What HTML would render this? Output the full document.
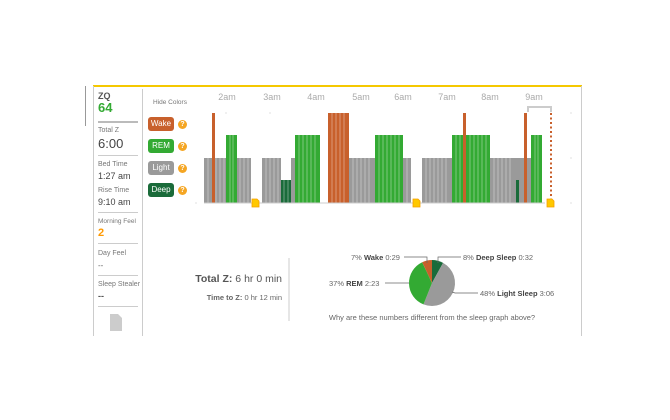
<!DOCTYPE html><html><head><style>
body{margin:0;width:670px;height:420px;background:#fff;font-family:"Liberation Sans",sans-serif;position:relative;overflow:hidden}
.a{position:absolute;white-space:nowrap}
.s{font-size:7px;color:#777}
.r{position:absolute;left:98px;width:40px;height:1px;background:#ccc}
.b{position:absolute;left:148px;width:26px;height:14px;border-radius:3px;color:#fff;font-size:8px;text-align:center;line-height:14px}
.q{position:absolute;left:178px;width:9px;height:9px;border-radius:50%;background:#f5a623;color:#fff;font-size:7px;text-align:center;line-height:9px;font-weight:bold}
</style></head><body>
<div class="a" style="left:93px;top:85px;width:489px;height:2px;background:#f5c800"></div>
<div class="a" style="left:581px;top:86px;width:1px;height:250px;background:#ccc"></div>
<div class="a" style="left:93px;top:86px;width:1px;height:250px;background:#ccc"></div>
<div class="a" style="left:142px;top:89px;width:1px;height:247px;background:#ccc"></div>
<div class="a" style="left:85px;top:86px;width:1px;height:40px;background:#999"></div>
<div class="a" style="left:98px;top:91px;font-size:9px;font-weight:bold;color:#555">ZQ</div>
<div class="a" style="left:98px;top:100px;font-size:13px;font-weight:bold;color:#3a3">64</div>
<div class="r" style="top:121px;background:#bbb;height:2px"></div>
<div class="a s" style="left:98px;top:127px">Total Z</div>
<div class="a" style="left:98px;top:136px;font-size:13px;color:#444">6:00</div>
<div class="r" style="top:155px"></div>
<div class="a s" style="left:98px;top:161px">Bed Time</div>
<div class="a" style="left:98px;top:171px;font-size:9px;color:#444">1:27 am</div>
<div class="a s" style="left:98px;top:187px">Rise Time</div>
<div class="a" style="left:98px;top:197px;font-size:9px;color:#444">9:10 am</div>
<div class="r" style="top:212px"></div>
<div class="a s" style="left:98px;top:218px;font-size:6.5px">Morning Feel</div>
<div class="a" style="left:98px;top:227px;font-size:11px;font-weight:bold;color:#f90">2</div>
<div class="r" style="top:243px"></div>
<div class="a s" style="left:98px;top:250px">Day Feel</div>
<div class="a" style="left:98px;top:261px;font-size:8px;color:#666">--</div>
<div class="r" style="top:275px"></div>
<div class="a s" style="left:98px;top:281px">Sleep Stealer</div>
<div class="a" style="left:98px;top:291px;font-size:9px;font-weight:bold;color:#555">--</div>
<div class="r" style="top:306px"></div>
<svg class="a" style="left:110px;top:314px" width="12" height="17"><path d="M0 0H8L12 4V17H0Z" fill="#ccc"/></svg>
<div class="a s" style="left:153px;top:99px;font-size:6.5px">Hide Colors</div>
<div class="b" style="top:117px;background:#c8602c">Wake</div><div class="q" style="top:120px">?</div>
<div class="b" style="top:139px;background:#3a3">REM</div><div class="q" style="top:142px">?</div>
<div class="b" style="top:161px;background:#9a9a9a">Light</div><div class="q" style="top:164px">?</div>
<div class="b" style="top:183px;background:#1a6b3a">Deep</div><div class="q" style="top:186px">?</div>
<svg class="a" style="left:0;top:0" width="670" height="420">
<g font-size="9" fill="#aaa" text-anchor="middle"><text x="227" y="100">2am</text><text x="272" y="100">3am</text><text x="316" y="100">4am</text><text x="361" y="100">5am</text><text x="403" y="100">6am</text><text x="447" y="100">7am</text><text x="490" y="100">8am</text><text x="534" y="100">9am</text></g>
<g fill="#9a9a9a"><rect x="204" y="158" width="47" height="45"/><rect x="262" y="158" width="19" height="45"/><rect x="291" y="158" width="4" height="45"/><rect x="349" y="158" width="26" height="45"/><rect x="403" y="158" width="8" height="45"/><rect x="422" y="158" width="30" height="45"/><rect x="490" y="158" width="41" height="45"/></g>
<g fill="#1a6b3a"><rect x="281" y="180" width="10" height="23"/><rect x="516" y="180" width="3" height="23"/></g>
<g fill="#3a3"><rect x="226" y="135" width="11" height="68"/><rect x="295" y="135" width="25" height="68"/><rect x="375" y="135" width="28" height="68"/><rect x="452" y="135" width="38" height="68"/><rect x="531" y="135" width="11" height="68"/></g>
<g fill="#c8602c"><rect x="212" y="113" width="3" height="90"/><rect x="328" y="113" width="21" height="90"/><rect x="463" y="113" width="3" height="90"/><rect x="524" y="113" width="3" height="90"/></g>
<g stroke="#fff" stroke-width="0.6" opacity="0.6">
<path d="M208 158V203M216 158V203M220 158V203M224 158V203M230 135V203M233 135V203M240 158V203M244 158V203M248 158V203M266 158V203M270 158V203M274 158V203M278 158V203M284 180V203M288 180V203M299 135V203M303 135V203M307 135V203M311 135V203M315 135V203M332 113V203M336 113V203M340 113V203M344 113V203M353 158V203M357 158V203M361 158V203M365 158V203M369 158V203M379 135V203M383 135V203M387 135V203M391 135V203M395 135V203M399 135V203M407 158V203M426 158V203M430 158V203M434 158V203M438 158V203M442 158V203M446 158V203M456 135V203M460 135V203M470 135V203M474 135V203M478 135V203M482 135V203M486 135V203M494 158V203M498 158V203M502 158V203M506 158V203M510 158V203M535 135V203M538 135V203"/></g>
<line x1="204" y1="203" x2="545" y2="203" stroke="#ccc"/>
<line x1="551" y1="113" x2="551" y2="200" stroke="#c8602c" stroke-width="2" stroke-dasharray="2,2.5"/>
<path d="M528 112V107H551V112" fill="none" stroke="#ccc" stroke-width="2"/>
<g fill="#ffc800" stroke="#f5a000" stroke-width="0.8"><path d="M252 199h5l2 2v6h-7z"/><path d="M413 199h5l2 2v6h-7z"/><path d="M547 199h5l2 2v6h-7z"/></g>
<g fill="#ccc"><circle cx="226" cy="113" r=".6"/><circle cx="270" cy="113" r=".6"/><circle cx="571" cy="113" r=".6"/><circle cx="571" cy="158" r=".6"/><circle cx="571" cy="203" r=".6"/><circle cx="196" cy="203" r=".6"/></g>
<line x1="289" y1="258" x2="289" y2="321" stroke="#ccc"/>
<text x="282" y="282" text-anchor="end" font-size="10.5" fill="#555"><tspan font-weight="bold">Total Z:</tspan> 6 hr 0 min</text>
<text x="282" y="300" text-anchor="end" font-size="7.5" fill="#666"><tspan font-weight="bold">Time to Z:</tspan> 0 hr 12 min</text>
<g transform="translate(432,283)">
<path d="M0 0L0 -23A23 23 0 0 1 11.07 -20.16Z" fill="#1a6b3a"/>
<path d="M0 0L11.07 -20.16A23 23 0 0 1 -8.49 21.38Z" fill="#9a9a9a"/>
<path d="M0 0L-8.49 21.38A23 23 0 0 1 -9.8 -20.8Z" fill="#3a3"/>
<path d="M0 0L-9.8 -20.8A23 23 0 0 1 0 -23Z" fill="#c8602c"/>
</g>
<g stroke="#666" stroke-width="0.7" fill="none"><path d="M404 257H427V263"/><path d="M438 263V257H461"/><path d="M385 283H409"/><path d="M452 292L455 293H478"/></g>
<g font-size="7.5" fill="#666"><text x="351" y="260">7% <tspan font-weight="bold" fill="#444">Wake</tspan> 0:29</text>
<text x="463" y="260">8% <tspan font-weight="bold" fill="#444">Deep Sleep</tspan> 0:32</text>
<text x="329" y="286">37% <tspan font-weight="bold" fill="#444">REM</tspan> 2:23</text>
<text x="480" y="296">48% <tspan font-weight="bold" fill="#444">Light Sleep</tspan> 3:06</text>
<text x="432" y="320" text-anchor="middle">Why are these numbers different from the sleep graph above?</text></g>
</svg>
</body></html>
